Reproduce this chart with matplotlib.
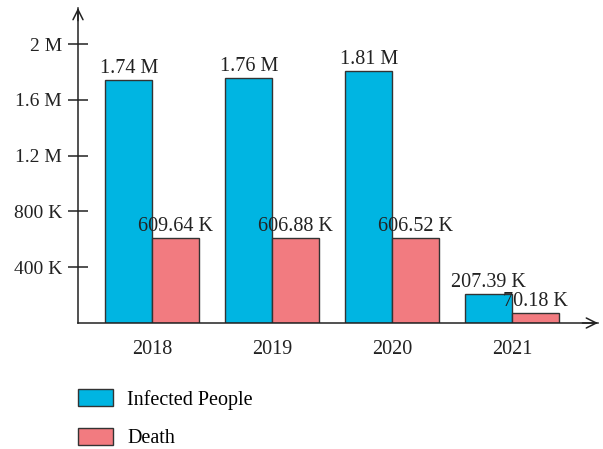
import matplotlib
matplotlib.use("Agg")
import matplotlib.pyplot as plt
from matplotlib.patches import Patch
import numpy as np

years = ["2018", "2019", "2020", "2021"]
infected = [1.74e6, 1.76e6, 1.81e6, 207.39e3]
deaths = [609.64e3, 606.88e3, 606.52e3, 70.18e3]
infected_labels = ["1.74 M", "1.76 M", "1.81 M", "207.39 K"]
death_labels = ["609.64 K", "606.88 K", "606.52 K", "70.18 K"]
yticks = [400e3, 800e3, 1.2e6, 1.6e6, 2.0e6]
ytick_labels = ["400 K", "800 K", "1.2 M", "1.6 M", "2 M"]

blue = "#00B5E2"
red = "#F27B80"
edge = "#333333"
ink = "#222222"
font = "Liberation Serif"
fs = 14.5

W, H = 603, 449
fig = plt.figure(figsize=(W / 100, H / 100), dpi=100)
ax = fig.add_axes([78 / W, 126 / H, (598 - 78) / W, (441 - 126) / H])

x = np.arange(len(years))
bw = 0.388
b1 = ax.bar(x - bw / 2, infected, bw, color=blue, edgecolor=edge, linewidth=1.0, zorder=2)
b2 = ax.bar(x + bw / 2, deaths, bw, color=red, edgecolor=edge, linewidth=1.0, zorder=2)

for bars, labels in ((b1, infected_labels), (b2, death_labels)):
    for rect, lab in zip(bars, labels):
        ax.annotate(lab, (rect.get_x() + rect.get_width() / 2, rect.get_height()),
                    xytext=(0, 1.5), textcoords="offset points", ha="center", va="bottom",
                    fontsize=fs, family=font, color=ink, zorder=3)

ax.set_xlim(-0.617, 3.717)
ax.set_ylim(0, 2.26e6)

for s in ["top", "right"]:
    ax.spines[s].set_visible(False)
for s in ["left", "bottom"]:
    ax.spines[s].set_color(ink)
    ax.spines[s].set_linewidth(1.1)

# open arrow heads at the ends of both axes
ax.annotate("", xy=(1.0, 0), xycoords="axes fraction", xytext=(0.97, 0),
            arrowprops=dict(arrowstyle="->", color=ink, lw=1.1,
                            mutation_scale=18, shrinkA=0, shrinkB=0))
ax.annotate("", xy=(0, 1.0), xycoords="axes fraction", xytext=(0, 0.96),
            arrowprops=dict(arrowstyle="->", color=ink, lw=1.1,
                            mutation_scale=18, shrinkA=0, shrinkB=0))

ax.set_yticks(yticks)
ax.set_yticklabels(ytick_labels, fontsize=14, family=font, color=ink)
ax.tick_params(axis="y", direction="inout", length=14, width=1.1, color=ink, pad=4.5)
ax.set_xticks(x)
ax.set_xticklabels(years, fontsize=fs, family=font, color=ink)
ax.tick_params(axis="x", length=0, pad=12)

handles = [Patch(facecolor=blue, edgecolor=edge, label="Infected People"),
           Patch(facecolor=red, edgecolor=edge, label="Death")]
fig.legend(handles=handles, loc="upper left", bbox_to_anchor=(78 / W, 1 - 389 / H),
           frameon=False, prop={"family": font, "size": fs},
           borderpad=0, borderaxespad=0,
           handlelength=1.75, handleheight=0.95, labelspacing=0.9, handletextpad=0.7)

fig.savefig("out.png", dpi=100)
